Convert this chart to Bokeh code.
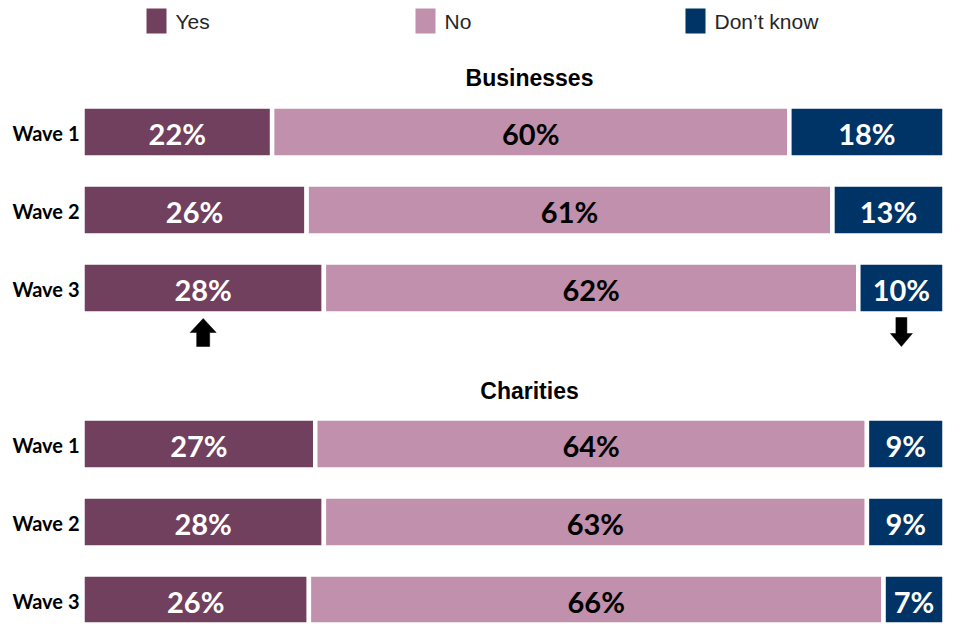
import numpy as np
from bokeh.plotting import figure
from bokeh.models import Range1d, ColumnDataSource
from bokeh.core.properties import value
from bokeh.embed import file_html
from bokeh.resources import INLINE

# ---- data ----
groups = ["Businesses", "Charities"]
waves = ["Wave 1", "Wave 2", "Wave 3"]
categories = ["Yes", "No", "Don\u2019t know"]
yes = [22, 26, 28, 27, 28, 26]
no = [60, 61, 62, 64, 63, 66]
dont_know = [18, 13, 10, 9, 9, 7]

# ---- styles ----
C_YES = "#70405E"
C_NO = "#C090AD"
C_DK = "#003366"
TXT = "#262626"

W, H = 944, 624
X0 = 82.0      # px of 0%
XPX = 8.62     # px per percentage point


def px(x):
    return (x - X0) / XPX


p = figure(width=W, height=H, x_range=Range1d(px(0), px(W)), y_range=Range1d(H, 0),
           output_backend="svg", toolbar_location=None, min_border=0,
           x_axis_location=None, y_axis_location=None)
p.grid.visible = False
p.outline_line_color = None
p.background_fill_color = "white"

# row layout (pixels)
ys = []
for g in range(len(groups)):
    for w in range(len(waves)):
        ys.append(131.5 + g * 312 + w * 78)
ys = np.array(ys)

y_a = np.array(yes, float)
n_a = np.array(no, float)
d_a = np.array(dont_know, float)
tot = y_a + n_a + d_a
yp = y_a / tot * 100
npct = n_a / tot * 100
dp = d_a / tot * 100

src = ColumnDataSource(dict(
    y=ys,
    yes_l=np.zeros(6), yes_r=yp,
    no_l=yp, no_r=yp + npct,
    dk_l=yp + npct, dk_r=yp + npct + dp,
))
BAR_H = 51
for l, r, c in [("yes_l", "yes_r", C_YES), ("no_l", "no_r", C_NO), ("dk_l", "dk_r", C_DK)]:
    p.hbar(y="y", left=l, right=r, height=BAR_H, source=src,
           fill_color=c, line_color="white", line_width=4.5)

# value labels
lab_font = value("Lato")
for lefts, widths, vals, col in [
    (np.zeros(6), yp, yes, "white"),
    (yp, npct, no, "black"),
    (yp + npct, dp, dont_know, "white"),
]:
    p.text(x=lefts + widths / 2, y=ys + 1, text=[f"{v}%" for v in vals],
           text_align="center", text_baseline="middle", text_font=lab_font,
           text_font_style="bold", text_font_size="29px", text_color=col)

# wave labels
p.text(x=[px(79)] * 6, y=ys + 1, text=waves * 2, text_align="right",
       text_baseline="middle", text_font=value("Lato"), text_font_style="bold",
       text_font_size="20px", text_color="black")

# panel titles
p.text(x=[px(529)] * 2, y=[77, 390], text=groups, text_align="center",
       text_baseline="middle", text_font=value("Liberation Sans"),
       text_font_style="bold", text_font_size="23px", text_color="black")

# arrows (significant change markers) at centre of wave 3 Yes / Don't know bars
def arrow(xc, y_tail, y_tip, shaft, head_w, head_len):
    hs = shaft / 2 / XPX
    hh = head_w / 2 / XPX
    sgn = 1 if y_tail > y_tip else -1
    yb = y_tip + sgn * head_len
    xs = [xc - hs, xc - hs, xc - hh, xc, xc + hh, xc + hs, xc + hs]
    yv = [y_tail, yb, yb, y_tip, yb, yb, y_tail]
    return xs, yv

ax1, ay1 = arrow(yp[2] / 2, 346, 318, 13, 26, 14)
ax2, ay2 = arrow(yp[2] + npct[2] + dp[2] / 2, 317, 346, 11, 22, 13)
p.patches(xs=[ax1, ax2], ys=[ay1, ay2], fill_color="black", line_color="black", line_width=0.5)

# legend (drawn as marks + text)
leg_x = [146, 415, 685]
p.rect(x=[px(v + 10) for v in leg_x], y=[20.5] * 3, width=20, height=25,
       width_units="screen", height_units="screen",
       fill_color=[C_YES, C_NO, C_DK], line_color=None)
p.text(x=[px(v + 29) for v in leg_x], y=[21] * 3, text=categories,
       text_align="left", text_baseline="middle", text_font=value("Liberation Sans"),
       text_font_size="21px", text_color=TXT)

open("out.html", "w").write(file_html(p, INLINE))
